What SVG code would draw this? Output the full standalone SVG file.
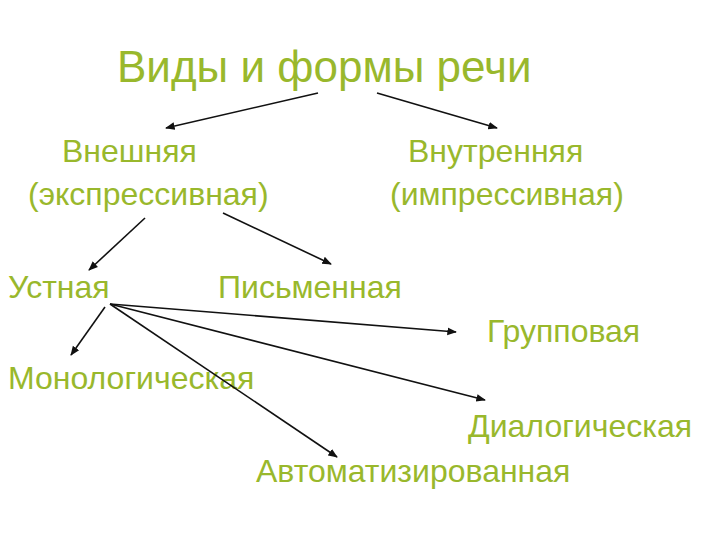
<svg xmlns="http://www.w3.org/2000/svg" width="720" height="540" viewBox="0 0 720 540">
<defs>
<style>
text{font-family:"Liberation Sans",Arial,sans-serif;fill:#99b82c;font-size:32px}
.t{font-size:44px}
.c line{stroke:#111;stroke-width:1.6;marker-end:url(#ah)}
</style>
<marker id="ah" viewBox="0 0 10 10" refX="9" refY="5" markerWidth="6" markerHeight="6" orient="auto" markerUnits="strokeWidth"><path d="M0,1 L10,5 L0,9 z" fill="#111"/></marker>
</defs>
<rect width="720" height="540" fill="#fff"/>
<g id="title"><text class="t" x="117" y="82">Виды и формы речи</text></g>
<g id="vneshnyaya"><text x="62" y="162">Внешняя</text><text x="28" y="205">(экспрессивная)</text></g>
<g id="vnutrennyaya"><text x="408" y="162">Внутренняя</text><text x="390" y="205">(импрессивная)</text></g>
<g id="ustnaya"><text x="8" y="298">Устная</text></g>
<g id="pismennaya"><text x="218" y="298">Письменная</text></g>
<g id="gruppovaya"><text x="487" y="342">Групповая</text></g>
<g id="monologicheskaya"><text x="8" y="389">Монологическая</text></g>
<g id="dialogicheskaya"><text x="468" y="437">Диалогическая</text></g>
<g id="avtomat"><text x="256" y="482">Автоматизированная</text></g>
<g class="c" id="connectors">
<line x1="318" y1="93" x2="166" y2="128"/>
<line x1="377" y1="93" x2="497" y2="128"/>
<line x1="145" y1="218" x2="89" y2="270"/>
<line x1="223" y1="213" x2="331" y2="264"/>
<line x1="110" y1="304" x2="456" y2="332"/>
<line x1="110" y1="304" x2="485" y2="400"/>
<line x1="110" y1="304" x2="337" y2="457"/>
<line x1="105" y1="307" x2="71" y2="355"/>
</g>
</svg>
